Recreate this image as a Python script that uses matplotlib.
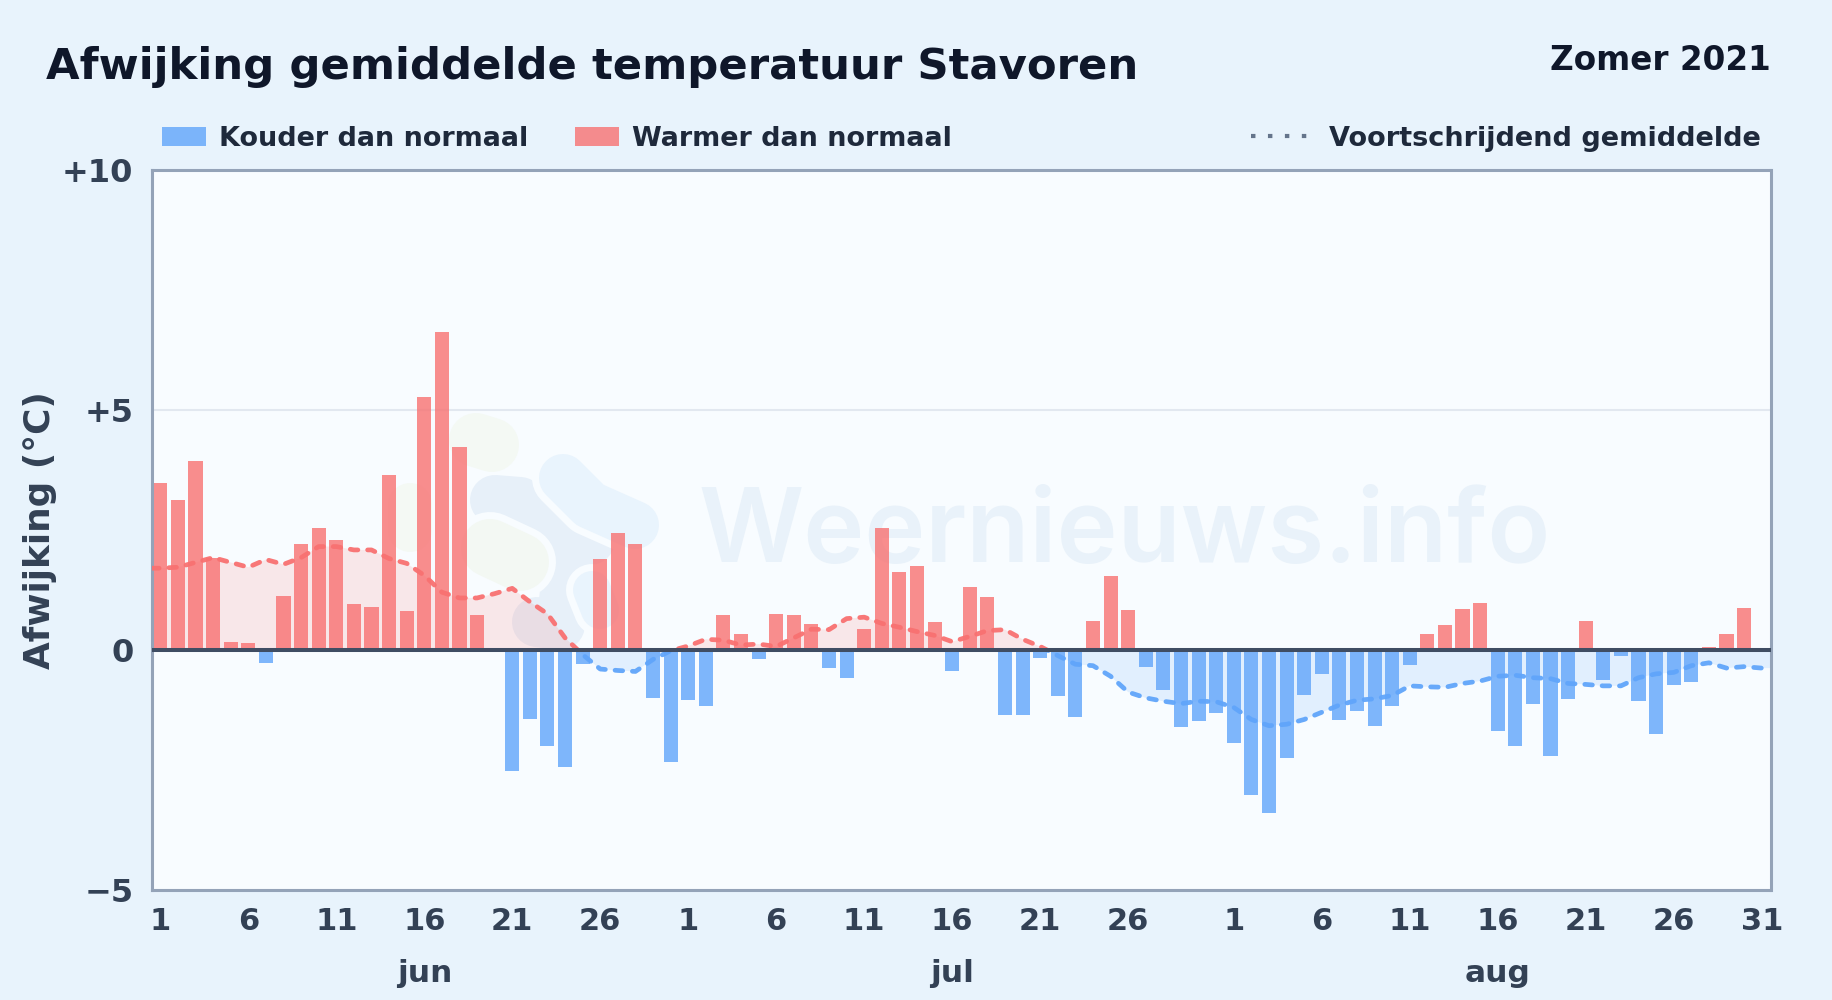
import numpy as np
import matplotlib
matplotlib.use("Agg")
import matplotlib.pyplot as plt
from matplotlib.lines import Line2D
from matplotlib.patches import Patch, Rectangle
from matplotlib.transforms import IdentityTransform, blended_transform_factory

# afwijking per dag (graden)
jun_dev = [3.48, 3.11, 3.94, 1.92, 0.17, 0.15, -0.27, 1.12, 2.21, 2.53,
           2.29, 0.95, 0.90, 3.63, 0.80, 5.26, 6.62, 4.23, 0.73, 0.0,
           -2.52, -1.43, -2.00, -2.43, -0.30, 1.90, 2.43, 2.21, -1.00, -2.34]
jul_dev = [-1.05, -1.17, 0.73, 0.34, -0.20, 0.75, 0.73, 0.53, -0.37, -0.58,
           0.44, 2.53, 1.63, 1.75, 0.58, -0.44, 1.31, 1.09, -1.36, -1.36,
           -0.17, -0.97, -1.39, 0.61, 1.53, 0.83, -0.36, -0.83, -1.60, -1.48, -1.31]
aug_dev = [-1.95, -3.02, -3.40, -2.26, -0.95, -0.50, -1.46, -1.27, -1.58, -1.17,
           -0.32, 0.32, 0.52, 0.85, 0.97, -1.68, -2.00, -1.12, -2.20, -1.02,
           0.61, -0.63, -0.12, -1.07, -1.75, -0.73, -0.68, 0.05, 0.34, 0.87, -0.05]

# voortschrijdend gemiddelde
jun_avg = [1.70, 1.72, 1.82, 1.92, 1.82, 1.72, 1.88, 1.78, 1.92, 2.15,
           2.15, 2.08, 2.08, 1.90, 1.80, 1.55, 1.20, 1.08, 1.08, 1.17,
           1.28, 1.00, 0.75, 0.25, -0.10, -0.40, -0.43, -0.45, -0.20, -0.02]
jul_avg = [0.08, 0.22, 0.20, 0.10, 0.12, 0.07, 0.25, 0.43, 0.42, 0.65,
           0.68, 0.55, 0.47, 0.38, 0.30, 0.17, 0.28, 0.40, 0.42, 0.22,
           0.07, -0.12, -0.30, -0.33, -0.55, -0.88, -1.00, -1.07, -1.12, -1.07, -1.08]
aug_avg = [-1.20, -1.45, -1.58, -1.55, -1.45, -1.30, -1.15, -1.05, -1.02, -0.95,
           -0.75, -0.77, -0.78, -0.70, -0.65, -0.55, -0.53, -0.58, -0.60, -0.70,
           -0.72, -0.75, -0.75, -0.58, -0.50, -0.47, -0.33, -0.27, -0.38, -0.35, -0.38]

months = ['jun', 'jul', 'aug']
month_days = [30, 31, 31]
tick_days = [1, 6, 11, 16, 21, 26, 31]
y_ticks = [-5, 0, 5, 10]
y_labels = ['\u22125', '0', '+5', '+10']

BLUE = '#60a5fa'
RED = '#f87171'
PLOT_BG = '#f8fcff'
W, H = 1832, 1000

plt.rcParams['font.family'] = ['DejaVu Sans']
plt.rcParams['lines.scale_dashes'] = False

dev = np.array(jun_dev + jul_dev + aug_dev)
avg = np.array(jun_avg + jul_avg + aug_avg)
index = np.arange(len(dev))

fig = plt.figure(figsize=(W / 100, H / 100), dpi=100, facecolor='#e8f3fc')
ax = fig.add_axes([151.5 / W, 1 - 890 / H, 1619 / W, 720.5 / H], facecolor=PLOT_BG)
ax.set_xlim(-0.5, len(dev) - 0.5)
ax.set_ylim(-5, 10)


def blob(points, width, color, z):
    # logo-vorm: dikke lijn met ronde uiteinden, punten in pixels vanaf linksboven
    xs = [p[0] for p in points]
    ys = [H - p[1] for p in points]
    ax.add_line(Line2D(xs, ys, transform=IdentityTransform(), lw=width * 0.72, color=color, zorder=z,
                       solid_capstyle='round', solid_joinstyle='round'))


# watermerk: logo en tekst
blob([(476, 440), (492, 445)], 54, '#f4f9f4', 0.50)
blob([(410, 505), (410, 530)], 44, '#f4f9f4', 0.50)
blob([(495, 500), (520, 502), (560, 525), (590, 540)], 50, '#e7f0f9', 0.51)
blob([(570, 545), (563, 610)], 50, '#e7f0f9', 0.51)
blob([(537, 622), (560, 625)], 50, '#e7f0f9', 0.51)
blob([(490, 548), (520, 562)], 72, PLOT_BG, 0.52)
blob([(490, 548), (520, 562)], 58, '#f3f8f3', 0.53)
blob([(563, 478), (590, 505), (635, 525)], 62, PLOT_BG, 0.52)
blob([(563, 478), (590, 505), (635, 525)], 48, '#e9f4fd', 0.53)
blob([(592, 590), (600, 610)], 52, PLOT_BG, 0.52)
blob([(592, 590), (600, 610)], 38, '#e9f4fd', 0.53)
ax.text(1124.5, H - 535, 'Weernieuws.info', transform=IdentityTransform(), fontsize=74.3,
        family='Inter', fontweight='semibold', color='#e9f2fa', ha='center', va='center', zorder=0.6)

ax.yaxis.grid(True, color='#e2e8f0', linewidth=1.5, zorder=1)
ax.set_axisbelow(True)

bar_colors = [RED if v >= 0 else BLUE for v in dev]
ax.bar(index, dev, 0.8, color=bar_colors, alpha=0.8, zorder=2)

# gemiddelde: doorgetrokken tot de rand van de plot
line_x = np.concatenate(([-0.5], index, [len(dev) - 0.5]))
line_y = np.concatenate(([avg[0]], avg, [avg[-1]]))
ax.fill_between(line_x, line_y, 0, where=line_y >= 0, interpolate=True, color=RED, alpha=0.15, lw=0, zorder=1.5)
ax.fill_between(line_x, line_y, 0, where=line_y <= 0, interpolate=True, color=BLUE, alpha=0.15, lw=0, zorder=1.5)
for col, y0, y1 in [(RED, 0, 10), (BLUE, -5, 0)]:
    ln, = ax.plot(line_x, line_y, color=col, lw=3.4, alpha=0.95, zorder=3,
                  dashes=(5.5, 7), dash_capstyle='round', dash_joinstyle='round')
    ln.set_clip_path(Rectangle((-0.5, y0), len(dev), y1 - y0, transform=ax.transData))

ax.axhline(0, color='#3f4d63', lw=2.9, zorder=4)

for s in ax.spines.values():
    s.set_color('#94a3b8')
    s.set_linewidth(2.2)

ax.set_yticks(y_ticks, y_labels)
ax.tick_params(axis='y', length=0, pad=13, labelsize=23, labelcolor='#334155')
for t in ax.get_yticklabels():
    t.set_fontweight('bold')

# dagen en maanden op de x-as
ticks, labels = [], []
start = 0
trans = blended_transform_factory(ax.transData, fig.transFigure)
for m, n in zip(months, month_days):
    for d in tick_days:
        if d <= n and not (m == 'jul' and d == 31):
            ticks.append(start + d - 1)
            labels.append(str(d))
    ax.text(start + 15, 1 - 973 / H, m, transform=trans, fontsize=22.5, fontweight='bold',
            color='#334155', ha='center', va='center')
    start += n
ax.set_xticks(ticks, labels)
ax.tick_params(axis='x', length=0, pad=12, labelsize=22, labelcolor='#334155')
for t in ax.get_xticklabels():
    t.set_fontweight('bold')

fig.text(40 / W, 1 - 530 / H, 'Afwijking (\u00b0C)', rotation=90, fontsize=25.8, fontweight='bold',
         color='#334155', ha='center', va='center')
fig.text(46 / W, 1 - 67 / H, 'Afwijking gemiddelde temperatuur Stavoren', fontsize=31.2, fontweight='bold',
         color='#0f172a', ha='left', va='center')
fig.text(1771 / W, 1 - 61 / H, 'Zomer 2021', fontsize=23.5, fontweight='bold',
         color='#0f172a', ha='right', va='center')

handles = [Patch(facecolor=BLUE, alpha=0.8, label='Kouder dan normaal'),
           Patch(facecolor=RED, alpha=0.8, label='Warmer dan normaal')]
fig.legend(handles=handles, loc='center left', bbox_to_anchor=(162 / W, 1 - 138.5 / H), ncol=2,
           frameon=False, borderpad=0, borderaxespad=0, handlelength=1.63, handleheight=0.7,
           handletextpad=0.48, columnspacing=1.72, prop={'size': 19.45, 'weight': 'bold'},
           labelcolor='#1e293b')
dotted = Line2D([], [], color='#64748b', lw=3, dashes=(3.2, 9), label='Voortschrijdend gemiddelde')
fig.legend(handles=[dotted], loc='center right', bbox_to_anchor=(1761 / W, 1 - 138.5 / H), frameon=False,
           borderpad=0, borderaxespad=0, handlelength=2.07, handletextpad=0.82,
           prop={'size': 19.5, 'weight': 'bold'}, labelcolor='#1e293b')

fig.savefig('out.png', dpi=100, facecolor=fig.get_facecolor())
